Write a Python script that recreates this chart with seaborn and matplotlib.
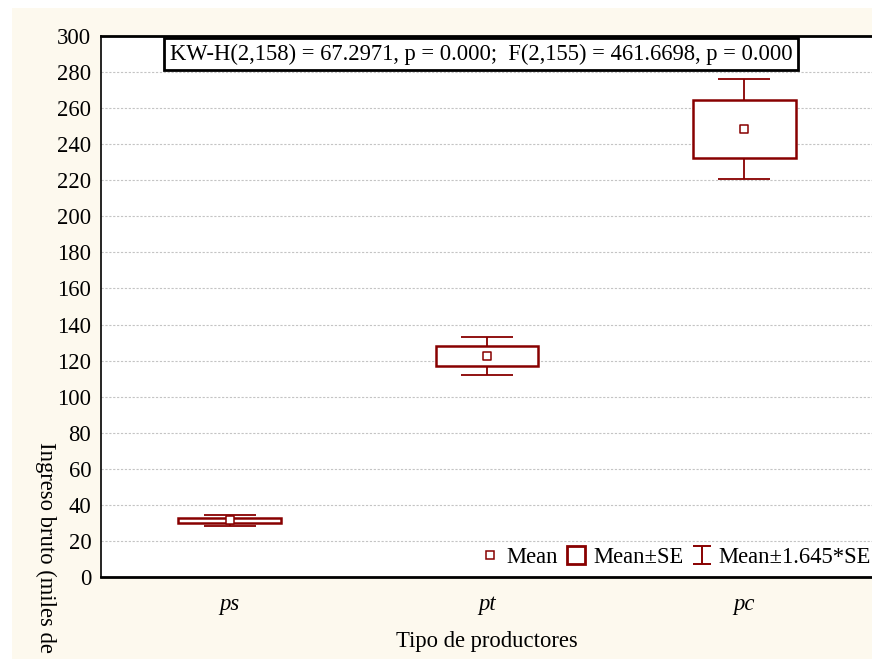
import numpy as np
import pandas as pd
import matplotlib
matplotlib.use("Agg")
import matplotlib.pyplot as plt
import seaborn as sns
from matplotlib.patches import Patch, Rectangle
from matplotlib.lines import Line2D
from matplotlib.path import Path

# ---- data ----
categories = ["ps", "pt", "pc"]
means = [31.4, 122.6, 248.4]
se_half = [1.5, 5.7, 16.0]          # Mean ± SE (box)
ci_half = [3.1, 10.4, 27.5]         # Mean ± 1.645*SE (whiskers)
y_ticks = list(range(0, 301, 20))
annot = "KW-H(2,158) = 67.2971, p = 0.000;  F(2,155) = 461.6698, p = 0.000"
x_label = "Tipo de productores"
y_label = "Ingreso bruto (miles de pesos)"
legend_labels = ["Mean", "Mean\u00b1SE", "Mean\u00b11.645*SE"]

df = pd.DataFrame({"cat": categories, "mean": means, "se": se_half, "ci": ci_half})
df["x"] = np.arange(len(df))

sns.set_style("white")
plt.rcParams["font.family"] = ["Liberation Serif", "DejaVu Serif"]
plt.rcParams["font.size"] = 16
for k in ["text.color", "axes.labelcolor", "xtick.color", "ytick.color"]:
    plt.rcParams[k] = "black"

FS = 16.3
RED = "#880000"
W, H = 872, 659
fig = plt.figure(figsize=(W / 100, H / 100), dpi=100, facecolor="white")
fig.patches.append(Rectangle((12 / W, 0), 1 - 12 / W, 1 - 8 / H, transform=fig.transFigure,
                             facecolor="#FDF9EE", edgecolor="none", zorder=-10))

left, right, top, bottom = 101, 873, 36, 577
ax = fig.add_axes([left / W, 1 - bottom / H, (right - left) / W, (bottom - top) / H])
ax.set_facecolor("white")

# whiskers
ax.errorbar(df["x"], df["mean"], yerr=df["ci"], fmt="none", ecolor=RED, elinewidth=1.3,
            capsize=18.5, capthick=1.3, zorder=3)
# SE boxes
ax.bar(df["x"], 2 * df["se"], bottom=df["mean"] - df["se"], width=0.4, color="white",
       edgecolor=RED, linewidth=1.8, zorder=4)
# means
sns.scatterplot(data=df, x="x", y="mean", marker="s", s=34, color="white",
                edgecolor=RED, linewidth=1.1, zorder=5, ax=ax, legend=False)

ax.set_xlim(-0.5, 2.5)
ax.set_ylim(0, 300)
ax.set_yticks(y_ticks)
ax.set_xticks(df["x"])
ax.set_xticklabels(categories, style="italic")
ax.yaxis.grid(True, color="#C4C4C4", linestyle=(0, (2, 1.5)), linewidth=0.8)
ax.set_axisbelow(True)
ax.tick_params(axis="y", direction="out", length=3, width=1, pad=4, labelsize=FS,
               right=True)
ax.tick_params(axis="x", direction="in", length=3, width=1, pad=12, labelsize=FS)
ax.set_ylabel("")
ax.set_xlabel(x_label, fontsize=FS)
ax.xaxis.set_label_coords(0.5, -(642 - bottom) / (bottom - top))
ax.xaxis.label.set_va("center")
ax.spines["left"].set_linewidth(1.2)
for s in ["top", "bottom"]:
    ax.spines[s].set_linewidth(2)
ax.spines["right"].set_linewidth(1.5)
for s in ax.spines.values():
    s.set_color("black")

# annotation box
fig.text(481 / W, 1 - 54 / H, annot, ha="center", va="center", fontsize=FS,
         bbox=dict(boxstyle="square,pad=0.25", facecolor="white", edgecolor="black", linewidth=2))

# y label (rotated, reading downward)
fig.text(46 / W, 1 - 442 / H, y_label, rotation=270, ha="center", va="top", fontsize=FS)

# legend
ibeam = Path([(-1, -1), (1, -1), (0, -1), (0, 1), (-1, 1), (1, 1)],
             [Path.MOVETO, Path.LINETO, Path.MOVETO, Path.LINETO, Path.MOVETO, Path.LINETO])
handles = [
    Line2D([], [], marker="s", linestyle="none", markersize=6, markerfacecolor="white",
           markeredgecolor=RED, markeredgewidth=1.1),
    Patch(facecolor="white", edgecolor=RED, linewidth=2.0),
    Line2D([], [], marker=ibeam, linestyle="none", markersize=13, markerfacecolor="none",
           markeredgecolor=RED, markeredgewidth=1.4),
]
fig.legend(handles, legend_labels, loc="center right", bbox_to_anchor=(871 / W, 1 - 557 / H),
           ncol=3, frameon=False, fontsize=FS, handlelength=0.8, handleheight=0.85,
           handletextpad=0.35, columnspacing=0.4, borderpad=0, borderaxespad=0)

fig.savefig("out.png", dpi=100, facecolor="white")
